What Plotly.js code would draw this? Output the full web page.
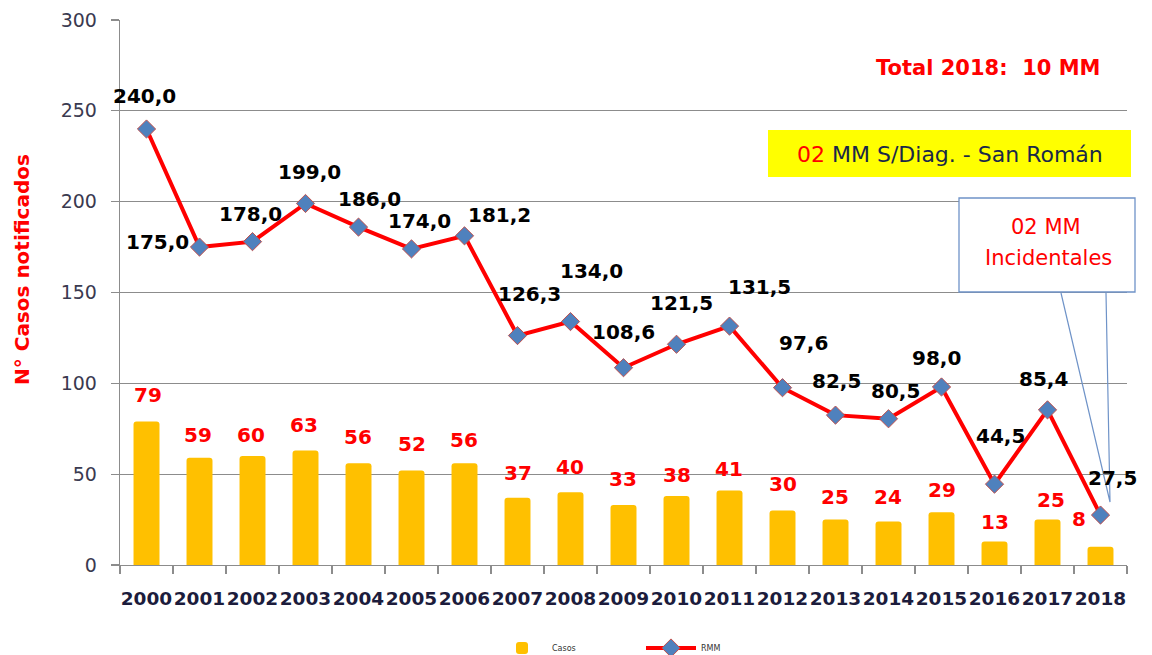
<!DOCTYPE html>
<html>
<head>
<meta charset="utf-8">
<script src="https://cdn.plot.ly/plotly-3.0.1.min.js"></script>
<style>html,body{margin:0;padding:0;background:#fff;}#chart{width:1152px;height:655px;}</style>
</head>
<body>
<div id="chart"></div>
<script>
// ---- data ----
const years = ['2000','2001','2002','2003','2004','2005','2006','2007','2008','2009','2010','2011','2012','2013','2014','2015','2016','2017','2018'];
const casos = [79,59,60,63,56,52,56,37,40,33,38,41,30,25,24,29,13,25,10];
const casosLabels = ['79','59','60','63','56','52','56','37','40','33','38','41','30','25','24','29','13','25','8'];
const rmm = [240.0,175.0,178.0,199.0,186.0,174.0,181.2,126.3,134.0,108.6,121.5,131.5,97.6,82.5,80.5,98.0,44.5,85.4,27.5];
const rmmLabels = rmm.map(v => v.toFixed(1).replace('.', ','));

// ---- label placement (pixel offsets, not data) ----
const rmmOff = [[-2,33],[-42,5],[-2,28],[4,31],[11,28],[8,28],[35,21],[12,42],[21,51],[0,36],[5,41],[30,39],[21,45],[1,34],[7,28],[-5,29],[6,48],[-4,31],[12,37]];
const casosOff = [[1,26],[-2,23],[-2,21],[-2,26],[-1,26],[0,27],[-1,23],[0,25],[-1,25],[-1,26],[0,21],[-1,22],[0,27],[-1,23],[-1,24],[0,22],[0,19],[3,20],[-22,28]];

const FONT = 'DejaVu Sans, Verdana, sans-serif';
const L = 120, R = 25, T = 20, B = 90, W = 1152, H = 655;
const pw = W - L - R, ph = H - T - B;
const px = X => (X - L) / pw;
const py = Y => (H - B - Y) / ph;

const idx = years.map((_, i) => i);
const bounds = years.concat(['']).map((_, i) => i - 0.5);

const traces = [
  {
    type: 'bar', name: 'Casos', x: idx, y: casos,
    marker: {color: '#ffc000', cornerradius: 3}, width: 0.49, xaxis: 'x', yaxis: 'y'
  },
  {
    type: 'scatter', mode: 'lines+markers', name: 'RMM', x: idx, y: rmm,
    line: {color: '#ff0000', width: 4},
    marker: {symbol: 'diamond', size: 14, color: '#4f81bd', line: {color: '#c0504d', width: 1}},
    xaxis: 'x', yaxis: 'y'
  },
  // invisible trace to activate the boundary-tick axis
  {type: 'scatter', x: [0], y: [0], xaxis: 'x2', yaxis: 'y', mode: 'markers',
   marker: {opacity: 0}, showlegend: false, hoverinfo: 'skip'}
];

const annotations = [];
idx.forEach(i => {
  annotations.push({
    x: i, y: rmm[i], xref: 'x', yref: 'y', text: rmmLabels[i], showarrow: false,
    xshift: rmmOff[i][0], yshift: rmmOff[i][1],
    font: {family: FONT, size: 20, color: '#000000', weight: 'bold'}
  });
  annotations.push({
    x: i, y: casos[i], xref: 'x', yref: 'y', text: casosLabels[i], showarrow: false,
    xshift: casosOff[i][0], yshift: casosOff[i][1],
    font: {family: FONT, size: 20, color: '#ff0000', weight: 'bold'}
  });
});
annotations.push({
  xref: 'paper', yref: 'paper', x: px(22), y: py(270), text: 'N° Casos notificados',
  textangle: -90, showarrow: false, xanchor: 'center', yanchor: 'middle',
  font: {family: FONT, size: 20, color: '#ff0000', weight: 'bold'}
});
annotations.push({
  xref: 'paper', yref: 'paper', x: px(988), y: py(68), text: 'Total 2018:&nbsp;&nbsp;10 MM',
  showarrow: false, xanchor: 'center', yanchor: 'middle',
  font: {family: FONT, size: 21, color: '#ff0000', weight: 'bold'}
});
annotations.push({
  xref: 'paper', yref: 'paper', x: px(950), y: py(154),
  text: '<span style="color:#ff0000">02</span> MM S/Diag. - San Román',
  showarrow: false, xanchor: 'center', yanchor: 'middle',
  font: {family: FONT, size: 22, color: '#1a2848'}
});
annotations.push({
  xref: 'paper', yref: 'paper', x: px(1046), y: py(227), text: '02 MM',
  showarrow: false, xanchor: 'center', yanchor: 'middle',
  font: {family: FONT, size: 21, color: '#ff0000'}
});
annotations.push({
  xref: 'paper', yref: 'paper', x: px(1048), y: py(258), text: 'Incidentales',
  showarrow: false, xanchor: 'center', yanchor: 'middle',
  font: {family: FONT, size: 21, color: '#ff0000'}
});

const shapes = [
  {type: 'rect', xref: 'paper', yref: 'paper', x0: px(768), x1: px(1131), y0: py(177), y1: py(130),
   fillcolor: '#ffff00', line: {width: 0}, layer: 'above'},
  {type: 'path', xref: 'paper', yref: 'paper',
   path: `M ${px(1061)} ${py(293)} L ${px(1110)} ${py(502)} L ${px(1106)} ${py(293)}`,
   line: {color: '#6f93c8', width: 1.2}, layer: 'above'},
  {type: 'rect', xref: 'paper', yref: 'paper', x0: px(959), x1: px(1135), y0: py(292), y1: py(198),
   fillcolor: '#ffffff', line: {color: '#6f93c8', width: 1.3}, layer: 'above'}
];

const layout = {
  width: W, height: H,
  margin: {l: L, r: R, t: T, b: B, pad: 0},
  paper_bgcolor: '#ffffff', plot_bgcolor: '#ffffff',
  font: {family: FONT},
  showlegend: true,
  legend: {orientation: 'h', xref: 'container', yref: 'container', x: 492 / W, y: (H - 648) / H,
           xanchor: 'left', yanchor: 'middle', itemwidth: 50, entrywidth: 84, entrywidthmode: 'pixels',
           font: {family: FONT, size: 8, color: '#333'}, bgcolor: 'rgba(0,0,0,0)'},
  xaxis: {
    type: 'linear', range: [-0.5, 18.5], autorange: false,
    tickmode: 'array', tickvals: idx, ticktext: years, tickangle: 0,
    showgrid: false, zeroline: false, showline: true, linecolor: '#8c8c8c', linewidth: 1.3,
    ticks: '', tickfont: {family: FONT, size: 18.5, color: '#1c1c3c', weight: 'bold'},
    ticklabelstandoff: 16, automargin: false, fixedrange: true
  },
  xaxis2: {
    type: 'linear', range: [-0.5, 18.5], autorange: false, overlaying: 'x', anchor: 'y', side: 'bottom',
    tickmode: 'array', tickvals: bounds, showticklabels: false,
    showgrid: false, zeroline: false, showline: false,
    ticks: 'outside', ticklen: 8, tickcolor: '#8c8c8c', tickwidth: 1.3,
    automargin: false, fixedrange: true
  },
  yaxis: {
    range: [0, 300], autorange: false, tickmode: 'array', tickvals: [0,50,100,150,200,250,300],
    showgrid: true, gridcolor: '#8c8c8c', gridwidth: 1.1,
    zeroline: false, showline: true, linecolor: '#8c8c8c', linewidth: 1.3,
    ticks: 'outside', ticklen: 8, tickcolor: '#8c8c8c', tickwidth: 1.3,
    tickfont: {family: FONT, size: 19, color: '#3a3a50'},
    ticklabelstandoff: 10,
    automargin: false, fixedrange: true
  },
  annotations: annotations,
  shapes: shapes
};

Plotly.newPlot('chart', traces, layout, {displayModeBar: false, staticPlot: true});
</script>
</body>
</html>
